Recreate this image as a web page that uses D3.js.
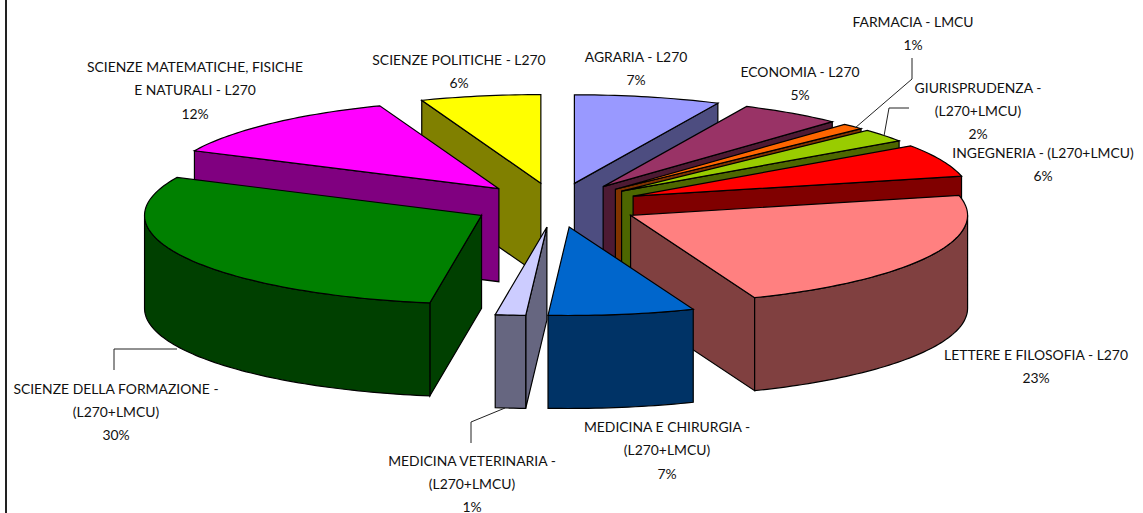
<!DOCTYPE html>
<html><head><meta charset="utf-8">
<script src="https://cdn.jsdelivr.net/npm/d3@7"></script>
<style>html,body{margin:0;padding:0;background:#fff}svg{display:block}</style>
</head><body><svg id="c" width="1143" height="513"></svg>
<script>
const categories = ["AGRARIA - L270","ECONOMIA - L270","FARMACIA - LMCU","GIURISPRUDENZA - (L270+LMCU)","INGEGNERIA - (L270+LMCU)","LETTERE E FILOSOFIA - L270","MEDICINA E CHIRURGIA - (L270+LMCU)","MEDICINA VETERINARIA - (L270+LMCU)","SCIENZE DELLA FORMAZIONE - (L270+LMCU)","SCIENZE MATEMATICHE, FISICHE E NATURALI - L270","SCIENZE POLITICHE - L270"];
const values = [7.0,4.9,1.1,2.4,6.0,22.6,7.0,1.45,29.6,12.2,5.75];
const percentLabels = ["7%","5%","1%","2%","6%","23%","7%","1%","30%","12%","6%"];
const colors = ["#9999FF","#993366","#FF6600","#99CC00","#FF0000","#FF8080","#0066CC","#CCCCFF","#008000","#FF00FF","#FFFF00"];
// label layout: text lines (last is the percentage), centre x, centre y of each line
const labelLines = [
 [["AGRARIA - L270"],636,[56,79]],
 [["ECONOMIA - L270"],800,[71,94]],
 [["FARMACIA - LMCU"],913,[21,44]],
 [["GIURISPRUDENZA -","(L270+LMCU)"],978,[87,110,133]],
 [["INGEGNERIA - (L270+LMCU)"],1043,[152,175]],
 [["LETTERE E FILOSOFIA - L270"],1036,[354,377]],
 [["MEDICINA E CHIRURGIA -","(L270+LMCU)"],667,[426,449,473]],
 [["MEDICINA VETERINARIA -","(L270+LMCU)"],472,[460,483,506]],
 [["SCIENZE DELLA FORMAZIONE -","(L270+LMCU)"],116,[388,411,434]],
 [["SCIENZE MATEMATICHE, FISICHE","E NATURALI - L270"],195,[66,89,113]],
 [["SCIENZE POLITICHE - L270"],459,[59,82]]
];
const leaders = [
 [[912,58],[912,79],[855,128]],
 [[909,108],[889,108],[884,136]],
 [[114,370],[114,349],[177,349]],
 [[471,443],[471,422],[505,408]]
];

const cx=556, cy=205, rx=337, ry=88.6, depth=93, explode=0.25;
const X=d3.scaleLinear().domain([-1,1]).range([cx-rx,cx+rx]);
const Y=d3.scaleLinear().domain([-1,1]).range([cy+ry,cy-ry]);
const svg=d3.select("#c");
const line=d3.line();
const arcs=d3.pie().sort(null)(values).map((a,i)=>{
  const mid=(a.startAngle+a.endAngle)/2;
  return {...a,i,mid,ox:explode*Math.sin(mid),oy:explode*Math.cos(mid)};
});
const pt=(s,t,r=1,dz=0)=>[X(s.ox+r*Math.sin(t)),Y(s.oy+r*Math.cos(t))+dz];
const angles=(a,b)=>{const n=Math.max(2,Math.ceil((b-a)/0.02));return d3.range(n+1).map(k=>a+(b-a)*k/n);};
const wall=c=>{const q=d3.rgb(c);return d3.rgb(q.r/2,q.g/2,q.b/2).formatHex();};
const face=(g,pts,fill)=>g.append("path").attr("d",line(pts)+"Z").attr("fill",fill)
  .attr("stroke","#000").attr("stroke-width",1.2).attr("stroke-linejoin","miter");

svg.append("line").attr("x1",6).attr("x2",6).attr("y1",0).attr("y2",513)
  .attr("stroke","#222").attr("stroke-width",2);

const order=arcs.slice().sort((p,q)=>d3.descending(p.oy,q.oy));
order.forEach(s=>{
  const g=svg.append("g");
  const A=s.startAngle,B=s.endAngle,col=colors[s.i],dk=wall(col);
  const apex=pt(s,0,0);
  if(Math.sin(A)<0){const e=pt(s,A);
    face(g,[apex,e,[e[0],e[1]+depth],[apex[0],apex[1]+depth]],dk);}
  if(Math.sin(B)>0){const e=pt(s,B);
    face(g,[apex,e,[e[0],e[1]+depth],[apex[0],apex[1]+depth]],dk);}
  const ra=Math.max(A,Math.PI/2),rb=Math.min(B,Math.PI*1.5);
  if(rb>ra){const ts=angles(ra,rb);
    face(g,ts.map(t=>pt(s,t)).concat(ts.slice().reverse().map(t=>pt(s,t,1,depth))),dk);}
  face(g,[apex].concat(angles(A,B).map(t=>pt(s,t))),col);
});

leaders.forEach(l=>svg.append("path").attr("d",line(l)).attr("fill","none").attr("stroke","#222").attr("stroke-width",1));

labelLines.forEach((l,i)=>{
  const texts=l[0].concat([percentLabels[i]]);
  texts.forEach((t,k)=>svg.append("text").attr("x",l[1]).attr("y",l[2][k]).attr("text-anchor","middle")
    .attr("dominant-baseline","central").attr("font-family","Lato, sans-serif").attr("font-size",13.9)
    .attr("fill","#111").text(t));
});
</script></body></html>
